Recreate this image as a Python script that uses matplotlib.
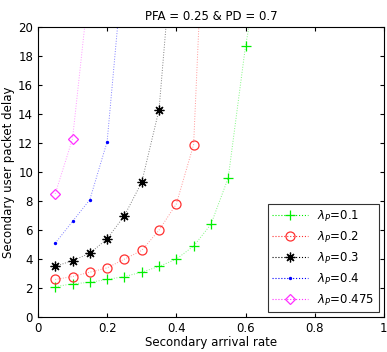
import numpy as np
import matplotlib.pyplot as plt

x_01 = [0.05, 0.10, 0.15, 0.20, 0.25, 0.30, 0.35, 0.40, 0.45, 0.50, 0.55, 0.60]
y_01 = [2.1, 2.3, 2.4, 2.6, 2.8, 3.1, 3.5, 4.0, 4.9, 6.4, 9.6, 18.7]
x_02 = [0.05, 0.10, 0.15, 0.20, 0.25, 0.30, 0.35, 0.40, 0.45]
y_02 = [2.6, 2.8, 3.1, 3.4, 4.0, 4.6, 6.0, 7.8, 11.9]
x_03 = [0.05, 0.10, 0.15, 0.20, 0.25, 0.30, 0.35]
y_03 = [3.5, 3.9, 4.4, 5.4, 7.0, 9.3, 14.3]
x_04 = [0.05, 0.10, 0.15, 0.20]
y_04 = [5.1, 6.6, 8.1, 12.1]
x_0475 = [0.05, 0.10]
y_0475 = [8.5, 12.3]

# where each dotted curve leaves the top of the plot
x_top = [0.61, 0.465, 0.37, 0.23, 0.135]
y_top = 20

labels = [r'$\lambda_P$=0.1', r'$\lambda_P$=0.2', r'$\lambda_P$=0.3',
          r'$\lambda_P$=0.4', r'$\lambda_P$=0.475']
colors = ['#00ee00', '#ff3030', 'black', 'blue', '#ff30ff']
markers = ['+', 'o', (8, 2, 0), '.', 'D']
msizes = [7, 6.5, 7, 3, 5.5]
hollow = [False, True, False, False, True]

xs = [x_01, x_02, x_03, x_04, x_0475]
ys = [y_01, y_02, y_03, y_04, y_0475]

fig = plt.figure(figsize=(3.87, 3.52), dpi=100)
ax = fig.add_axes([0.098, 0.099, 0.894, 0.824])

for i in range(5):
    lx = xs[i] + [x_top[i]]
    ly = ys[i] + [y_top]
    fc = 'none' if hollow[i] else colors[i]
    ax.plot(lx, ly, ':', color=colors[i], lw=0.7, alpha=0.5)
    ax.plot(xs[i], ys[i], linestyle='none', marker=markers[i], ms=msizes[i],
            mfc=fc, mec=colors[i], mew=0.9)
    # legend proxy
    ax.plot([], [], ':', color=colors[i], marker=markers[i], ms=msizes[i],
            mfc=fc, mec=colors[i], mew=0.9, lw=0.8, label=labels[i])

ax.set_xlim(0, 1)
ax.set_ylim(0, 20)
ax.set_xticks([0, 0.2, 0.4, 0.6, 0.8, 1])
ax.set_xticklabels(['0', '0.2', '0.4', '0.6', '0.8', '1'])
ax.set_yticks(np.arange(0, 21, 2))
ax.tick_params(direction='in', top=True, right=True, labelsize=8.5, length=3)
ax.set_xlabel('Secondary arrival rate', fontsize=8.5, labelpad=1)
ax.set_ylabel('Secondary user packet delay', fontsize=8.5, labelpad=2)
ax.set_title('PFA = 0.25 & PD = 0.7', fontsize=8.5, pad=5)

leg = ax.legend(loc='lower right', fontsize=8.5, fancybox=False, edgecolor='black',
                handlelength=3, borderaxespad=0.4, labelspacing=0.5)
leg.get_frame().set_linewidth(0.8)

fig.savefig('out.png', dpi=100)
